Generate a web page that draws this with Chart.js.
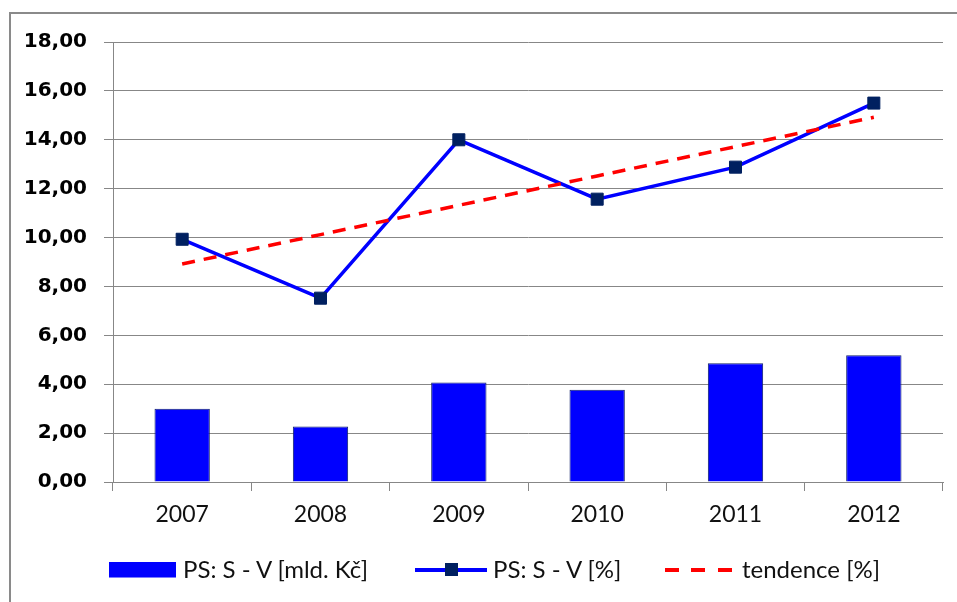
<!DOCTYPE html>
<html>
<head>
<meta charset="utf-8">
<script src="https://cdn.jsdelivr.net/npm/chart.js@4/dist/chart.umd.min.js"></script>
<style>
  html, body { margin: 0; padding: 0; background: #fff; }
  #wrap { position: relative; width: 957px; height: 602px; overflow: hidden; }
  #frame { position: absolute; left: 9px; top: 12px; width: 980px; height: 620px; border: 2px solid #8a8a8a; box-sizing: border-box; }
  canvas { position: absolute; left: 0; top: 0; }
  .lg { position: absolute; font-family: Lato, sans-serif; font-size: 24px; color: #111; line-height: 28px; top: 555px; white-space: nowrap; }
  .sw { position: absolute; }
</style>
</head>
<body>
<div id="wrap">
  <div id="frame"></div>
  <canvas id="chart" width="957" height="602"></canvas>
  <div id="legend"></div>
</div>
<script>
// data
const years = ['2007', '2008', '2009', '2010', '2011', '2012'];
const amountBn = [3.00, 2.27, 4.07, 3.77, 4.86, 5.19];      // PS: S - V [mld. Kč]
const sharePct = [9.93, 7.52, 14.00, 11.57, 12.88, 15.50]; // PS: S - V [%]
const trendPct = [8.92, 10.12, 11.32, 12.52, 13.72, 14.92]; // tendence [%]
const seriesNames = ['PS: S - V [mld. Kč]', 'PS: S - V [%]', 'tendence [%]'];

const gridGrey = '#878787';

// Format numbers the Czech way: 12,00
function fmt(v) {
  return v.toFixed(2).replace('.', ',');
}

const chart = new Chart(document.getElementById('chart').getContext('2d'), {
  data: {
    labels: years,
    datasets: [
      {
        type: 'line',
        label: seriesNames[2],
        data: trendPct,
        borderColor: '#ff0000',
        borderWidth: 3.5,
        borderDash: [13, 9],
        pointRadius: 0,
        order: 0
      },
      {
        type: 'line',
        label: seriesNames[1],
        data: sharePct,
        borderColor: '#0000ff',
        borderWidth: 3.5,
        pointStyle: 'rect',
        pointRadius: 8.5,
        pointBackgroundColor: '#002060',
        pointBorderColor: '#002060',
        pointBorderWidth: 1,
        order: 1
      },
      {
        type: 'bar',
        label: seriesNames[0],
        data: amountBn,
        backgroundColor: '#0000ff',
        borderColor: '#10206a',
        borderWidth: 1,
        categoryPercentage: 1,
        barPercentage: 0.4,
        order: 2
      }
    ]
  },
  options: {
    responsive: false,
    animation: false,
    devicePixelRatio: 1,
    layout: { padding: { left: 0, top: 42, right: 14, bottom: 0 } },
    plugins: {
      legend: { display: false },
      tooltip: { enabled: false }
    },
    scales: {
      x: {
        offset: true,
        grid: { display: true, drawOnChartArea: false, offset: true, color: gridGrey, tickLength: 9, lineWidth: 1 },
        border: { color: gridGrey, width: 1 },
        ticks: { color: '#111', padding: 10, font: { family: 'Lato', size: 23 } },
        afterFit: (s) => { s.height = 120; }
      },
      y: {
        min: 0,
        max: 18,
        grid: { color: gridGrey, tickLength: 9, lineWidth: 1 },
        border: { color: gridGrey, width: 1 },
        ticks: {
          stepSize: 2,
          padding: 17,
          color: '#000',
          font: { family: 'DejaVu Sans', size: 20, weight: 'bold' },
          callback: (v) => fmt(v)
        },
        afterFit: (s) => { s.width = 113; }
      }
    }
  }
});

// HTML legend, laid out like the original (bar box, line with marker, dashed line)
const legend = document.getElementById('legend');
function add(html) { legend.insertAdjacentHTML('beforeend', html); }

add(`<div class="sw" style="left:109px;top:562px;width:67px;height:15px;background:#0000ff;border-bottom:1px solid #7b7bff"></div>`);
add(`<div class="lg" style="left:183px">${seriesNames[0]}</div>`);

add(`<div class="sw" style="left:415px;top:568px;width:72px;height:4px;background:#0000ff"></div>`);
add(`<div class="sw" style="left:445px;top:563px;width:13px;height:13px;background:#002060"></div>`);
add(`<div class="lg" style="left:493px">${seriesNames[1]}</div>`);

[665, 691, 718].forEach(x => {
  add(`<div class="sw" style="left:${x}px;top:568px;width:14px;height:4px;background:#ff0000"></div>`);
});
add(`<div class="lg" style="left:742px">${seriesNames[2]}</div>`);
</script>
</body>
</html>
